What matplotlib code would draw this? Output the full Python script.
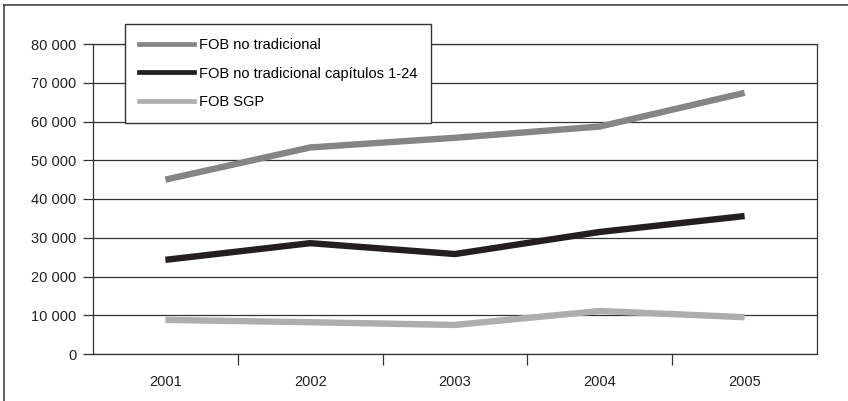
import matplotlib
matplotlib.use("Agg")
import matplotlib.pyplot as plt
from matplotlib.lines import Line2D
from matplotlib.ticker import FuncFormatter, FixedLocator

years = ["2001", "2002", "2003", "2004", "2005"]
fob_no_trad = [45000, 53300, 55800, 58700, 67400]
fob_cap_1_24 = [24300, 28600, 25800, 31500, 35600]
fob_sgp = [8800, 8200, 7500, 11100, 9500]

series = [
    ("FOB no tradicional", fob_no_trad, "#858585"),
    ("FOB no tradicional capítulos 1-24", fob_cap_1_24, "#231f20"),
    ("FOB SGP", fob_sgp, "#aeaeae"),
]

plt.rcParams["font.family"] = ["Liberation Sans Narrow", "Liberation Sans", "DejaVu Sans"]

fig = plt.figure(figsize=(8.48, 4.01), dpi=100)
ax = fig.add_axes([93 / 848, 1 - 354 / 401, 724 / 848, 310 / 401])

x = list(range(len(years)))
for label, vals, color in series:
    ax.plot(x, vals, color=color, lw=4.6, solid_capstyle="butt", label=label)

ax.set_xlim(-0.5, len(years) - 0.5)
ax.set_ylim(0, 80000)
ax.set_yticks(range(0, 80001, 10000))
ax.yaxis.set_major_formatter(FuncFormatter(lambda v, p: f"{int(v):,}".replace(",", " ")))
ax.grid(axis="y", color="#333333", lw=0.9)
ax.set_axisbelow(True)

ax.set_xticks(x)
ax.set_xticklabels(years)
ax.xaxis.set_minor_locator(FixedLocator([i + 0.5 for i in range(len(years) - 1)]))
ax.tick_params(axis="x", which="major", length=0, pad=15, labelsize=10.5, colors="#222222")
ax.tick_params(axis="x", which="minor", length=8, width=0.9, color="#333333")
ax.tick_params(axis="y", length=7, width=0.9, color="#333333", pad=5, labelsize=10.5,
               labelcolor="#222222")

for s in ax.spines.values():
    s.set_color("#333333")
    s.set_linewidth(0.9)

handles = [Line2D([], [], color=c, lw=3.4) for _, _, c in series]
leg = ax.legend(handles, [s[0] for s in series], loc="upper left",
                bbox_to_anchor=(0.044, 1.064), frameon=True, fancybox=False,
                fontsize=10.5, handlelength=3.8, handletextpad=0.3,
                labelspacing=1.0, borderpad=0.95, borderaxespad=0)
leg.get_frame().set_edgecolor("#333333")
leg.get_frame().set_linewidth(1.0)
leg.get_frame().set_facecolor("white")
leg.get_frame().set_alpha(1)

# outer border of the figure
fig.add_artist(Line2D([4 / 848, 1], [1 - 5 / 401] * 2, color="#444444", lw=1.2,
                      transform=fig.transFigure))
fig.add_artist(Line2D([4 / 848] * 2, [0, 1 - 5 / 401], color="#444444", lw=1.2,
                      transform=fig.transFigure))

fig.savefig("out.png", dpi=100)
